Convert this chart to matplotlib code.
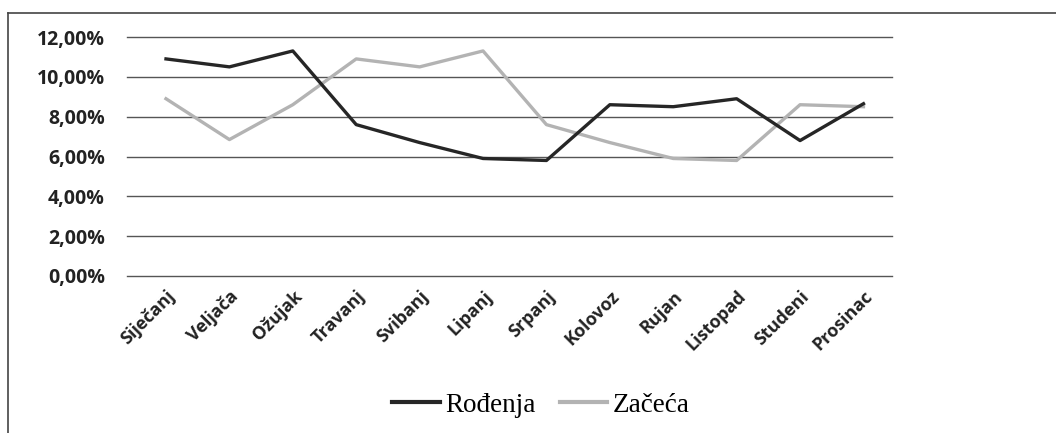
import matplotlib.pyplot as plt
from matplotlib.lines import Line2D
from matplotlib.ticker import FuncFormatter

# ── Data ──────────────────────────────────────────────────────────────────────
months = ['Siječanj', 'Veljača', 'Ožujak', 'Travanj', 'Svibanj', 'Lipanj',
          'Srpanj', 'Kolovoz', 'Rujan', 'Listopad', 'Studeni', 'Prosinac']
rodenja = [10.9, 10.5, 11.3, 7.6, 6.7, 5.9, 5.8, 8.6, 8.5, 8.9, 6.8, 8.65]
zaceca  = [8.9, 6.85, 8.6, 10.9, 10.5, 11.3, 7.6, 6.7, 5.9, 5.8, 8.6, 8.5]
yticks  = [0, 2, 4, 6, 8, 10, 12]

DARK  = '#262626'
LIGHT = '#b3b3b3'
GRID  = '#555555'

# ── Figure ────────────────────────────────────────────────────────────────────
fig = plt.figure(figsize=(10.56, 4.33), dpi=100)
fig.patch.set_facecolor('white')
W, H = 1056, 433
ax = fig.add_axes([127 / W, 1 - 276 / H, (892 - 127) / W, (276 - 37) / H])

x = list(range(len(months)))
ax.plot(x, rodenja, color=DARK, lw=2.4, label='Rođenja', zorder=3)
ax.plot(x, zaceca, color=LIGHT, lw=2.4, label='Začeća', zorder=2)

ax.set_xlim(-0.615, 11.45)
ax.set_ylim(0, 12)
ax.set_yticks(yticks)
ax.yaxis.set_major_formatter(FuncFormatter(lambda v, p: f'{v:.2f}%'.replace('.', ',')))
ax.grid(axis='y', color=GRID, lw=1.0, zorder=0)
for gl in ax.get_ygridlines():
    gl.set_clip_on(False)
ax.set_axisbelow(True)
for s in ax.spines.values():
    s.set_visible(False)
ax.tick_params(length=0)
ax.tick_params(axis='y', pad=16)

ax.set_xticks(x)
ax.set_xticklabels(months, rotation=45, ha='right', rotation_mode='anchor',
                   fontsize=13, fontweight='bold', family='Open Sans', color='#222222')
for lab in ax.get_yticklabels():
    lab.set_fontsize(14)
    lab.set_fontweight('bold')
    lab.set_family('Open Sans')
    lab.set_color('#222222')
ax.tick_params(axis='x', pad=8)

handles = [Line2D([], [], color=DARK, lw=3), Line2D([], [], color=LIGHT, lw=3)]
fig.legend(handles, ['Rođenja', 'Začeća'], loc='center', bbox_to_anchor=(541 / W, 1 - 405 / H),
           ncol=2, frameon=False, handlelength=1.75, handletextpad=0.2, columnspacing=0.9,
           prop={'family': 'Liberation Serif', 'size': 19.5})

# outer frame (left and top edges only visible)
fig.add_artist(Line2D([8 / W, 8 / W], [0, 1 - 13 / H], transform=fig.transFigure, color='#444444', lw=1.2))
fig.add_artist(Line2D([8 / W, 1], [1 - 13 / H, 1 - 13 / H], transform=fig.transFigure, color='#444444', lw=1.2))

plt.savefig('out.png', dpi=100, facecolor='white')
